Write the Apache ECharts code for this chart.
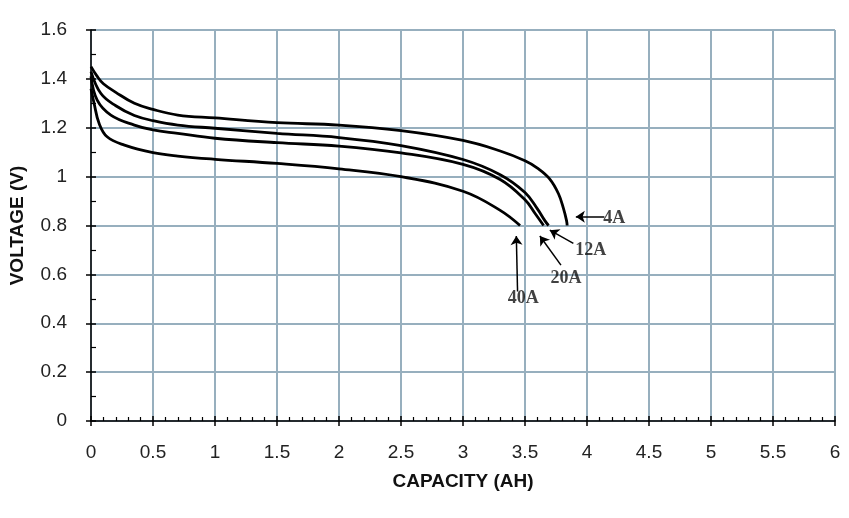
<!DOCTYPE html>
<html>
<head>
<meta charset="utf-8">
<script src="https://cdn.jsdelivr.net/npm/echarts@6/dist/echarts.min.js"></script>
<style>
  html, body { margin: 0; padding: 0; background: #fff; }
  #chart { width: 849px; height: 518px; }
</style>
</head>
<body>
<div id="chart"></div>
<script>
// discharge curves: [capacity AH, voltage V]
const curve4A = [[0,1.45],[0.05,1.41],[0.1,1.38],[0.2,1.345],[0.35,1.30],[0.5,1.275],[0.7,1.252],[1.0,1.24],[1.5,1.221],[2.0,1.211],[2.5,1.188],[3.0,1.148],[3.3,1.105],[3.5,1.065],[3.6,1.035],[3.7,0.99],[3.77,0.93],[3.81,0.87],[3.835,0.82],[3.84,0.8]]
const curve12A = [[0,1.43],[0.08,1.34],[0.2,1.29],[0.35,1.25],[0.5,1.229],[0.7,1.211],[1.0,1.198],[1.5,1.177],[2.0,1.16],[2.5,1.127],[3.0,1.07],[3.3,1.008],[3.5,0.935],[3.6,0.868],[3.66,0.82],[3.69,0.8]]
const curve20A = [[0,1.41],[0.05,1.313],[0.16,1.252],[0.35,1.211],[0.5,1.191],[0.7,1.177],[1.0,1.157],[1.5,1.139],[2.0,1.125],[2.5,1.097],[3.0,1.05],[3.3,0.988],[3.5,0.905],[3.58,0.85],[3.65,0.8]]
const curve40A = [[0,1.36],[0.025,1.3],[0.065,1.218],[0.13,1.163],[0.27,1.129],[0.5,1.098],[0.7,1.084],[1.0,1.071],[1.5,1.054],[2.0,1.032],[2.5,1.0],[3.0,0.94],[3.3,0.862],[3.46,0.8]]

// annotations
const labels = ['4A', '12A', '20A', '40A']
const labelPos = [[4.22,0.83],[4.03,0.70],[3.83,0.585],[3.485,0.503]]
const arrowTails = [[4.14,0.836],[3.89,0.727],[3.79,0.638],[3.44,0.53]]
const arrowHeads = [[3.91,0.836],[3.70,0.781],[3.62,0.757],[3.43,0.757]]

const chart = echarts.init(document.getElementById('chart'))

const lineSeries = (data) => ({
  type: 'line',
  data: data,
  smooth: 0.4,
  showSymbol: false,
  lineStyle: { color: '#000', width: 2.8 },
  silent: true
})

const option = {
  animation: false,
  grid: { left: 87, right: 14, top: 30, bottom: 97 },
  xAxis: [{
    type: 'value', min: 0, max: 6, interval: 0.5,
    position: 'bottom',
    name: 'CAPACITY (AH)', nameLocation: 'middle', nameGap: 51,
    nameTextStyle: { fontFamily: 'Liberation Sans', fontWeight: 'bold', fontSize: 19, color: '#111' },
    axisLine: { lineStyle: { color: '#000', width: 1.5 } },
    axisTick: { inside: true, length: 5, lineStyle: { color: '#000', width: 1.5 } },
    minorTick: { show: true, splitNumber: 5, length: 4, lineStyle: { color: '#000', width: 1.2 } },
    axisLabel: { fontFamily: 'Liberation Sans', fontSize: 19, color: '#222', margin: 22 },
    splitLine: { lineStyle: { color: '#97afbe', width: 2 } }
  }, {
    type: 'value', min: 0, max: 6, interval: 0.5,
    position: 'bottom',
    axisLine: { show: false },
    axisTick: { inside: false, length: 5, lineStyle: { color: '#000', width: 1.5 } },
    axisLabel: { show: false },
    splitLine: { show: false }
  }],
  yAxis: [{
    type: 'value', min: 0, max: 1.6, interval: 0.2,
    position: 'left',
    name: 'VOLTAGE (V)', nameLocation: 'middle', nameGap: 64,
    nameTextStyle: { fontFamily: 'Liberation Sans', fontWeight: 'bold', fontSize: 19, color: '#111' },
    axisLine: { show: true, lineStyle: { color: '#000', width: 1.5 } },
    axisTick: { show: true, inside: true, length: 5, lineStyle: { color: '#000', width: 1.5 } },
    minorTick: { show: true, splitNumber: 2, length: 5, lineStyle: { color: '#000', width: 1.2 } },
    axisLabel: { fontFamily: 'Liberation Sans', fontSize: 19, color: '#222', margin: 24 },
    splitLine: { lineStyle: { color: '#97afbe', width: 2 } }
  }, {
    type: 'value', min: 0, max: 1.6, interval: 0.2,
    position: 'left',
    axisLine: { show: false },
    axisTick: { show: true, inside: false, length: 5, lineStyle: { color: '#000', width: 1.5 } },
    axisLabel: { show: false },
    splitLine: { show: false }
  }],
  series: [
    lineSeries(curve4A),
    lineSeries(curve12A),
    lineSeries(curve20A),
    Object.assign(lineSeries(curve40A), {
      markLine: {
        silent: true,
        symbol: ['none', 'arrow'],
        symbolSize: 9,
        label: { show: false },
        lineStyle: { color: '#000', width: 1.5, type: 'solid' },
        data: arrowTails.map((t, i) => [{ coord: t }, { coord: arrowHeads[i] }])
      }
    }),
    {
      type: 'scatter',
      symbolSize: 0,
      silent: true,
      data: labelPos.map((p, i) => ({ value: p, name: labels[i] })),
      label: {
        show: true, position: 'inside',
        formatter: p => p.name,
        fontFamily: 'Liberation Serif', fontWeight: 'bold', fontSize: 18, color: '#111'
      }
    }
  ]
}

chart.setOption(option)
</script>
</body>
</html>
